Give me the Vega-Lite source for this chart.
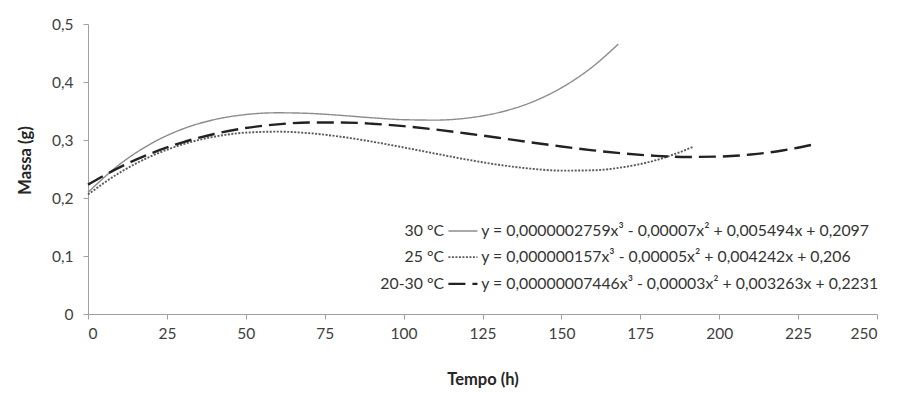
{
  "$schema": "https://vega.github.io/schema/vega-lite/v6.json",
  "width": 789,
  "height": 290,
  "autosize": "none",
  "padding": {"left": 88, "top": 24, "right": 24, "bottom": 80},
  "background": "white",
  "config": {
    "view": {"stroke": null},
    "font": "Lato",
    "axis": {"grid": false, "domainColor": "#a0a0a0", "tickColor": "#a0a0a0", "labelColor": "#404040", "titleColor": "#262626", "labelFont": "Lato", "titleFont": "Lato", "labelFontSize": 15.5, "titleFontSize": 16.5, "titleFontWeight": "bold"}
  },
  "datasets": {
    "curves": [
      {"serie": "30 °C", "part": "curve", "x": 0, "y": 0.2097},
      {"serie": "30 °C", "part": "curve", "x": 10, "y": 0.2579},
      {"serie": "30 °C", "part": "curve", "x": 20, "y": 0.2938},
      {"serie": "30 °C", "part": "curve", "x": 30, "y": 0.3190},
      {"serie": "30 °C", "part": "curve", "x": 40, "y": 0.3351},
      {"serie": "30 °C", "part": "curve", "x": 50, "y": 0.3439},
      {"serie": "30 °C", "part": "curve", "x": 60, "y": 0.3469},
      {"serie": "30 °C", "part": "curve", "x": 70, "y": 0.3459},
      {"serie": "30 °C", "part": "curve", "x": 80, "y": 0.3425},
      {"serie": "30 °C", "part": "curve", "x": 90, "y": 0.3383},
      {"serie": "30 °C", "part": "curve", "x": 100, "y": 0.3350},
      {"serie": "30 °C", "part": "curve", "x": 110, "y": 0.3343},
      {"serie": "30 °C", "part": "curve", "x": 120, "y": 0.3377},
      {"serie": "30 °C", "part": "curve", "x": 130, "y": 0.3471},
      {"serie": "30 °C", "part": "curve", "x": 140, "y": 0.3639},
      {"serie": "30 °C", "part": "curve", "x": 150, "y": 0.3900},
      {"serie": "30 °C", "part": "curve", "x": 160, "y": 0.4268},
      {"serie": "30 °C", "part": "curve", "x": 168, "y": 0.4652},
      {"serie": "25 °C", "part": "curve", "x": 0, "y": 0.2060},
      {"serie": "25 °C", "part": "curve", "x": 10, "y": 0.2436},
      {"serie": "25 °C", "part": "curve", "x": 20, "y": 0.2721},
      {"serie": "25 °C", "part": "curve", "x": 30, "y": 0.2925},
      {"serie": "25 °C", "part": "curve", "x": 40, "y": 0.3057},
      {"serie": "25 °C", "part": "curve", "x": 50, "y": 0.3127},
      {"serie": "25 °C", "part": "curve", "x": 60, "y": 0.3144},
      {"serie": "25 °C", "part": "curve", "x": 70, "y": 0.3118},
      {"serie": "25 °C", "part": "curve", "x": 80, "y": 0.3057},
      {"serie": "25 °C", "part": "curve", "x": 90, "y": 0.2972},
      {"serie": "25 °C", "part": "curve", "x": 100, "y": 0.2872},
      {"serie": "25 °C", "part": "curve", "x": 110, "y": 0.2766},
      {"serie": "25 °C", "part": "curve", "x": 120, "y": 0.2663},
      {"serie": "25 °C", "part": "curve", "x": 130, "y": 0.2574},
      {"serie": "25 °C", "part": "curve", "x": 140, "y": 0.2507},
      {"serie": "25 °C", "part": "curve", "x": 150, "y": 0.2472},
      {"serie": "25 °C", "part": "curve", "x": 160, "y": 0.2478},
      {"serie": "25 °C", "part": "curve", "x": 170, "y": 0.2535},
      {"serie": "25 °C", "part": "curve", "x": 180, "y": 0.2652},
      {"serie": "25 °C", "part": "curve", "x": 192, "y": 0.2886},
      {"serie": "20-30 °C", "part": "curve", "x": 0, "y": 0.2231},
      {"serie": "20-30 °C", "part": "curve", "x": 10, "y": 0.2528},
      {"serie": "20-30 °C", "part": "curve", "x": 20, "y": 0.2770},
      {"serie": "20-30 °C", "part": "curve", "x": 30, "y": 0.2960},
      {"serie": "20-30 °C", "part": "curve", "x": 40, "y": 0.3104},
      {"serie": "20-30 °C", "part": "curve", "x": 50, "y": 0.3206},
      {"serie": "20-30 °C", "part": "curve", "x": 60, "y": 0.3270},
      {"serie": "20-30 °C", "part": "curve", "x": 70, "y": 0.3301},
      {"serie": "20-30 °C", "part": "curve", "x": 80, "y": 0.3303},
      {"serie": "20-30 °C", "part": "curve", "x": 90, "y": 0.3281},
      {"serie": "20-30 °C", "part": "curve", "x": 100, "y": 0.3239},
      {"serie": "20-30 °C", "part": "curve", "x": 110, "y": 0.3181},
      {"serie": "20-30 °C", "part": "curve", "x": 120, "y": 0.3113},
      {"serie": "20-30 °C", "part": "curve", "x": 130, "y": 0.3039},
      {"serie": "20-30 °C", "part": "curve", "x": 140, "y": 0.2962},
      {"serie": "20-30 °C", "part": "curve", "x": 150, "y": 0.2889},
      {"serie": "20-30 °C", "part": "curve", "x": 160, "y": 0.2822},
      {"serie": "20-30 °C", "part": "curve", "x": 170, "y": 0.2766},
      {"serie": "20-30 °C", "part": "curve", "x": 180, "y": 0.2727},
      {"serie": "20-30 °C", "part": "curve", "x": 190, "y": 0.2708},
      {"serie": "20-30 °C", "part": "curve", "x": 200, "y": 0.2714},
      {"serie": "20-30 °C", "part": "curve", "x": 210, "y": 0.2749},
      {"serie": "20-30 °C", "part": "curve", "x": 220, "y": 0.2818},
      {"serie": "20-30 °C", "part": "curve", "x": 230, "y": 0.2925},
      {"serie": "30 °C", "part": "key", "x": 114.2, "y": 0.143},
      {"serie": "30 °C", "part": "key", "x": 123.4, "y": 0.143},
      {"serie": "25 °C", "part": "key", "x": 114.2, "y": 0.098},
      {"serie": "25 °C", "part": "key", "x": 123.4, "y": 0.098},
      {"serie": "20-30 °C", "part": "key", "x": 114.2, "y": 0.052},
      {"serie": "20-30 °C", "part": "key", "x": 123.4, "y": 0.052}
    ],
    "legend": [
      {"serie": "30 °C", "xl": 112.8, "xe": 124.6, "y": 0.143, "eq": "y = 0,0000002759x³ - 0,00007x² + 0,005494x + 0,2097"},
      {"serie": "25 °C", "xl": 112.8, "xe": 124.6, "y": 0.098, "eq": "y = 0,000000157x³ - 0,00005x² + 0,004242x + 0,206"},
      {"serie": "20-30 °C", "xl": 112.8, "xe": 124.6, "y": 0.052, "eq": "y = 0,00000007446x³ - 0,00003x² + 0,003263x + 0,2231"}
    ]
  },
  "layer": [
    {
      "data": {"name": "curves"},
      "mark": {"type": "line", "interpolate": "monotone", "clip": false},
      "encoding": {
        "x": {"field": "x", "type": "quantitative", "scale": {"domain": [0, 250], "nice": false},
          "axis": {"values": [0, 25, 50, 75, 100, 125, 150, 175, 200, 225, 250], "title": "Tempo (h)", "tickSize": 5, "labelPadding": 7, "titlePadding": 30}},
        "y": {"field": "y", "type": "quantitative", "scale": {"domain": [0, 0.5], "nice": false},
          "axis": {"values": [0, 0.1, 0.2, 0.3, 0.4, 0.5], "title": "Massa (g)", "tickSize": 5, "labelPadding": 10, "titlePadding": 18, "titleY": 136, "labelExpr": "replace(format(datum.value, '~g'), '.', ',')"}},
        "detail": {"field": "part"},
        "color": {"field": "serie", "type": "nominal", "legend": null,
          "scale": {"domain": ["30 °C", "25 °C", "20-30 °C"], "range": ["#8c8c8c", "#5a5a5a", "#222222"]}},
        "strokeDash": {"field": "serie", "type": "nominal", "legend": null,
          "scale": {"domain": ["30 °C", "25 °C", "20-30 °C"], "range": [[1, 0], [2, 1.5], [17, 7]]}},
        "strokeWidth": {"field": "serie", "type": "nominal", "legend": null,
          "scale": {"domain": ["30 °C", "25 °C", "20-30 °C"], "range": [1.4, 2.4, 3.2]}}
      }
    },
    {
      "data": {"name": "legend"},
      "mark": {"type": "text", "align": "right", "baseline": "middle", "fontSize": 15.8, "color": "#333333", "font": "Lato"},
      "encoding": {
        "x": {"field": "xl", "type": "quantitative"},
        "y": {"field": "y", "type": "quantitative"},
        "text": {"field": "serie"}
      }
    },
    {
      "data": {"name": "legend"},
      "mark": {"type": "text", "align": "left", "baseline": "middle", "fontSize": 15.8, "color": "#333333", "font": "Lato"},
      "encoding": {
        "x": {"field": "xe", "type": "quantitative"},
        "y": {"field": "y", "type": "quantitative"},
        "text": {"field": "eq"}
      }
    }
  ]
}
